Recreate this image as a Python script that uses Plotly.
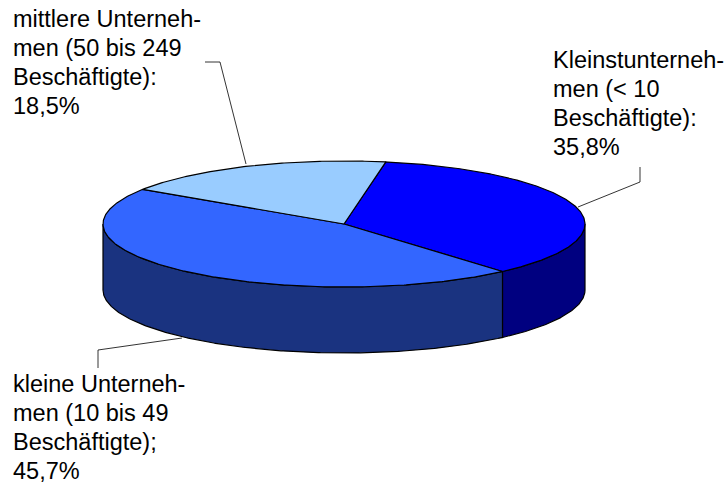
import numpy as np
import plotly.graph_objects as go

# Slice data, clockwise from the first slice
values = [35.8, 45.7, 18.5]
top_colors = ["#0000FF", "#3366FF", "#99CCFF"]
side_colors = ["#000080", "#1A3380", "#4D6680"]
label_lines = [
    ["Kleinstunterneh-", "men (< 10", "Beschäftigte):", "35,8%"],
    ["kleine Unterneh-", "men (10 bis 49", "Beschäftigte);", "45,7%"],
    ["mittlere Unterneh-", "men (50 bis 249", "Beschäftigte):", "18,5%"],
]
label_anchor = [(551, 60), (11, 384), (11, 19)]
leaders = [
    ([640, 640, 578], [167, 182, 207]),
    ([98, 98, 182], [368, 350, 338]),
    ([205, 220, 246], [62, 62, 164]),
]

# Pie geometry in page pixels
CX, CY = 344.0, 224.0
RX, RY = 241.0, 63.0
DEPTH = 66.0
FIRST_ANGLE = 80.0
LINE_STEP = 29
FONT = "Liberation Sans, Arial, sans-serif"
OUTLINE = dict(color="black", width=1.2)


def rim(a_start, a_end, dy=0.0):
    """Points along the ellipse between two angles given in degrees."""
    n = max(int(abs(a_end - a_start)) * 2, 2)
    t = np.radians(np.linspace(a_start, a_end, n))
    return CX + RX * np.cos(t), CY + dy - RY * np.sin(t)


def polygon(xs, ys, fill):
    return go.Scatter(x=xs, y=ys, mode="lines", fill="toself", fillcolor=fill,
                      line=OUTLINE, hoverinfo="skip", showlegend=False)


# Angular span of each slice
sweep = np.array(values) / sum(values) * 360.0
ends = FIRST_ANGLE - np.cumsum(sweep)
starts = np.concatenate(([FIRST_ANGLE], ends[:-1]))

fig = go.Figure()

# Front wall: only the lower half of the ellipse (angles -180..0) is visible
for a0, a1, col in zip(starts, ends, side_colors):
    for shift in (0.0, -360.0):
        lo = max(a1 + shift, -180.0)
        hi = min(a0 + shift, 0.0)
        if hi <= lo:
            continue
        xt, yt = rim(hi, lo)
        xb, yb = rim(lo, hi, DEPTH)
        fig.add_trace(polygon(np.r_[xt, xb, xt[0]], np.r_[yt, yb, yt[0]], col))

# Top face
for a0, a1, col in zip(starts, ends, top_colors):
    xs, ys = rim(a0, a1)
    fig.add_trace(polygon(np.r_[CX, xs, CX], np.r_[CY, ys, CY], col))

# Leader lines
for lx, ly in leaders:
    fig.add_trace(go.Scatter(x=lx, y=ly, mode="lines",
                             line=dict(color="black", width=0.8),
                             hoverinfo="skip", showlegend=False))

# Labels, one annotation per line for an even line pitch
for lines, (ax, ay) in zip(label_lines, label_anchor):
    for i, line in enumerate(lines):
        fig.add_annotation(x=ax, y=ay + i * LINE_STEP, text=line, showarrow=False,
                           xanchor="left", yanchor="middle", align="left",
                           font=dict(family=FONT, size=23.5, color="black"))

fig.update_layout(
    width=728, height=483, margin=dict(l=0, r=0, t=0, b=0),
    paper_bgcolor="white", plot_bgcolor="white", showlegend=False,
    xaxis=dict(range=[0, 728], visible=False, fixedrange=True),
    yaxis=dict(range=[483, 0], visible=False, fixedrange=True),
)
fig.write_html("out.html", config={"displayModeBar": False})
